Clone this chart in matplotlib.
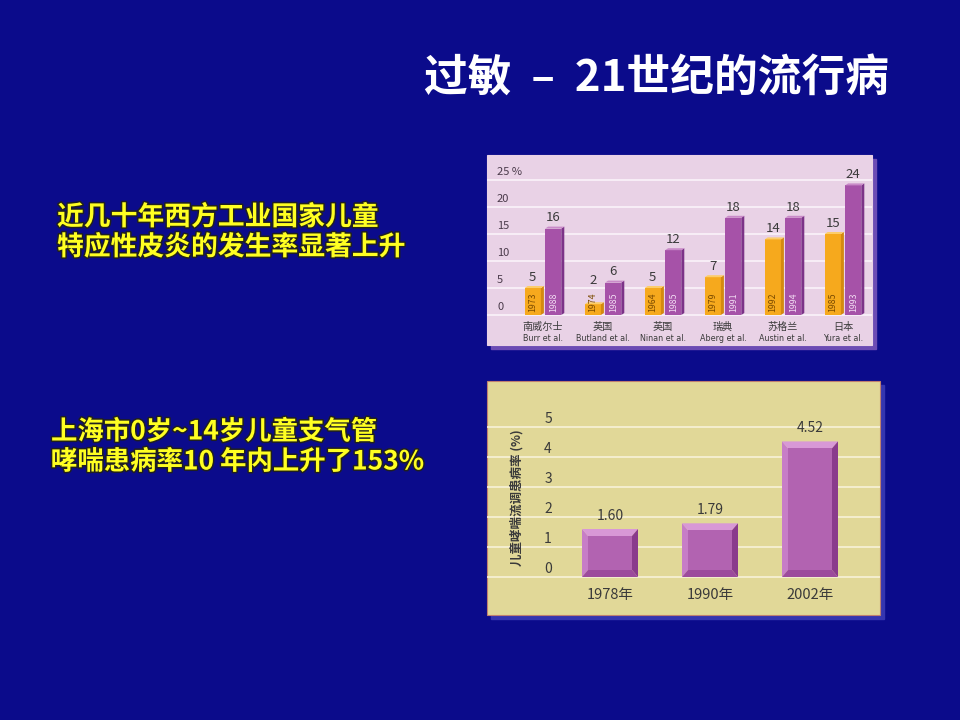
import matplotlib
matplotlib.use('Agg')
import matplotlib.pyplot as plt
import matplotlib.patheffects as pe
from matplotlib.patches import Rectangle, Polygon

plt.rcParams['font.family'] = ['Noto Sans CJK SC', 'DejaVu Sans']

# chart 1: atopic dermatitis prevalence (%)
regions = ['南威尔士', '英国', '英国', '瑞典', '苏格兰', '日本']
authors = ['Burr et al.', 'Butland et al.', 'Ninan et al.', 'Aberg et al.', 'Austin et al.', 'Yura et al.']
early_years = ['1973', '1974', '1964', '1979', '1992', '1985']
late_years = ['1988', '1985', '1985', '1991', '1994', '1993']
early_vals = [5, 2, 5, 7, 14, 15]
late_vals = [16, 6, 12, 18, 18, 24]
y1_ticks = [0, 5, 10, 15, 20, 25]

# chart 2: Shanghai childhood asthma prevalence (%)
survey_years = ['1978年', '1990年', '2002年']
asthma_vals = [1.60, 1.79, 4.52]
y2_ticks = [0, 1, 2, 3, 4, 5]

NAVY = '#0b0b8b'
W, H = 960, 720


def fx(px):
    return px / W


def fy(py):
    return 1 - py / H


def panel(fig, x0, y0, x1, y1, face, shadow, edge=None):
    fig.patches.append(Rectangle((fx(x0 + 4), fy(y1 + 4)), fx(x1 - x0), (y1 - y0) / H,
                                 transform=fig.transFigure, color=shadow, zorder=-2))
    fig.patches.append(Rectangle((fx(x0), fy(y1)), fx(x1 - x0), (y1 - y0) / H,
                                 transform=fig.transFigure, facecolor=face,
                                 edgecolor=edge or face, lw=0.8, zorder=-1))


fig = plt.figure(figsize=(9.6, 7.2), dpi=100, facecolor=NAVY)

# title
fig.text(fx(424), fy(78), '过敏  –  21世纪的流行病', color='white', fontsize=31.5,
         fontweight='bold', ha='left', va='center')

shadow = [pe.withStroke(linewidth=2.2, foreground='#202020')]
for i, line in enumerate(['近几十年西方工业国家儿童', '特应性皮炎的发生率显著上升']):
    fig.text(fx(57), fy(217 + 30 * i), line, color='#ffff22', fontsize=19.3,
             fontweight='bold', ha='left', va='center', path_effects=shadow)
for i, line in enumerate(['上海市0岁~14岁儿童支气管', '哮喘患病率10 年内上升了153%']):
    fig.text(fx(51), fy(432 + 30 * i), line, color='#ffff22', fontsize=19,
             fontweight='bold', ha='left', va='center', path_effects=shadow)

# ---------- chart 1 ----------
p1 = (487, 155, 872, 345)
panel(fig, *p1, face='#e9d2e6', shadow='#6c4cb4')
ax1 = fig.add_axes([fx(p1[0]), fy(p1[3]), fx(p1[2] - p1[0]), (p1[3] - p1[1]) / H])
ax1.set_zorder(2)
ax1.set_axis_off()
ax1.patch.set_alpha(0)
ppu1 = 5.4   # pixels per percent
ppx1 = 60.0  # pixels per group
ax1.set_xlim((487 - 543) / ppx1, (872 - 543) / ppx1)
ax1.set_ylim(-(345 - 315) / ppu1, (315 - 155) / ppu1)

for t in y1_ticks:
    ax1.axhline(t, color='#fbf3fa', lw=1.2, zorder=1)
    lab = f'{t} %' if t == y1_ticks[-1] else str(t)
    ax1.text((497 - 543) / ppx1, t + 8 / ppu1, lab, fontsize=8, color='#4a3a4a',
             ha='left', va='center')

bw = 0.27
off = 0.17
dx, dy = 3 / ppx1, 2 / ppu1
year_top = 0.5 + 23 / ppu1  # top of the rotated year text, in percent units


def bar3d(ax, xc, h, front, side, top):
    x0, x1 = xc - bw / 2, xc + bw / 2
    ax.add_patch(Rectangle((x0, 0), bw, h, facecolor=front, edgecolor='none', zorder=3))
    ax.add_patch(Polygon([(x1, 0), (x1 + dx, dy), (x1 + dx, h + dy), (x1, h)],
                         facecolor=side, edgecolor='none', zorder=3))
    ax.add_patch(Polygon([(x0, h), (x0 + dx, h + dy), (x1 + dx, h + dy), (x1, h)],
                         facecolor=top, edgecolor='none', zorder=3))


for i in range(len(regions)):
    xe, xl = i - off, i + off
    bar3d(ax1, xe, early_vals[i], '#f6a91d', '#d48a0e', '#fccd6a')
    bar3d(ax1, xl, late_vals[i], '#a652a8', '#7c3388', '#c98ac8')
    for xc, v, yr, col in [(xe, early_vals[i], early_years[i], '#7a4a00'),
                           (xl, late_vals[i], late_years[i], '#f3dcf3')]:
        ly = max(v + dy, year_top) + 0.4
        ax1.text(xc, ly, str(v), fontsize=9.5, color='#3a3a3a',
                 ha='center', va='bottom', zorder=4)
        ax1.text(xc, 0.5, yr, rotation=90, fontsize=6.3, color=col,
                 ha='center', va='bottom', zorder=4)
    ax1.text(i, -(327 - 315) / ppu1, regions[i], fontsize=7.3, color='#3a3a3a',
             ha='center', va='center')
    ax1.text(i, -(338 - 315) / ppu1, authors[i], fontsize=5.8, color='#3a3a3a',
             ha='center', va='center', family='DejaVu Sans')

# ---------- chart 2 ----------
p2 = (487, 381, 880, 615)
panel(fig, *p2, face='#e1d898', shadow='#3535b0', edge='#c08070')
ax2 = fig.add_axes([fx(p2[0]), fy(p2[3]), fx(p2[2] - p2[0]), (p2[3] - p2[1]) / H])
ax2.set_zorder(2)
ax2.set_axis_off()
ax2.patch.set_alpha(0)
ppu2 = 30.0
ppx2 = 100.0
ax2.set_xlim((487 - 610) / ppx2, (880 - 610) / ppx2)
ax2.set_ylim(-(615 - 577) / ppu2, (577 - 381) / ppu2)

for t in y2_ticks:
    ax2.axhline(t, color='#f7f2d8', lw=1.2, zorder=1)
    ax2.text((548 - 610) / ppx2, t + 8 / ppu2, str(t), fontsize=10, color='#3a3a3a',
             ha='center', va='center')

ax2.text((517 - 610) / ppx2, (577 - 498) / ppu2, '儿童哮喘流调患病率 (%)', rotation=90,
         fontsize=9, color='#3a3a3a', ha='center', va='center', fontweight='bold')

bw2 = 0.56
bx, by = 6 / ppx2, 7 / ppu2
for i, v in enumerate(asthma_vals):
    x0, x1 = i - bw2 / 2, i + bw2 / 2
    ax2.add_patch(Polygon([(x0, 0), (x0, v), (x0 + bx, v - by), (x0 + bx, by)],
                          facecolor='#c77dc7', edgecolor='none', zorder=3))
    ax2.add_patch(Polygon([(x0, v), (x1, v), (x1 - bx, v - by), (x0 + bx, v - by)],
                          facecolor='#d898d6', edgecolor='none', zorder=3))
    ax2.add_patch(Polygon([(x1, v), (x1, 0), (x1 - bx, by), (x1 - bx, v - by)],
                          facecolor='#8a3a8c', edgecolor='none', zorder=3))
    ax2.add_patch(Polygon([(x0, 0), (x1, 0), (x1 - bx, by), (x0 + bx, by)],
                          facecolor='#9c4a9c', edgecolor='none', zorder=3))
    ax2.add_patch(Rectangle((x0 + bx, by), bw2 - 2 * bx, v - 2 * by,
                            facecolor='#b263b1', edgecolor='none', zorder=3))
    ax2.text(i, v + 0.2, f'{v:.2f}', fontsize=10, color='#3a3a3a',
             ha='center', va='bottom', zorder=4)
    ax2.text(i, -(595 - 577) / ppu2, survey_years[i], fontsize=10.5, color='#3a3a3a',
             ha='center', va='center')

fig.savefig('out.png', dpi=100, facecolor=NAVY)
